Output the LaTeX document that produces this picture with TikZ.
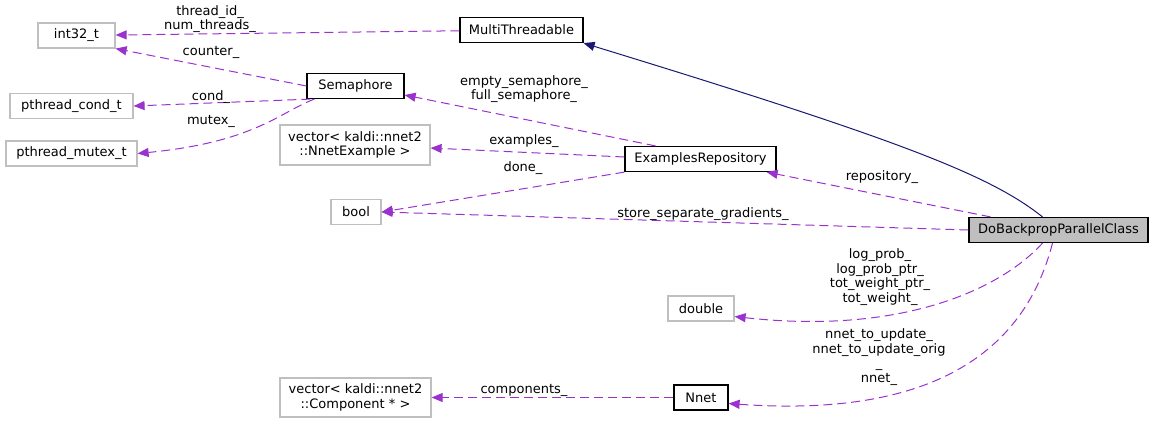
\documentclass[tikz,border=0pt]{standalone}
\usepackage{fontspec}
\setmainfont{DejaVu Sans}
\usetikzlibrary{arrows.meta}

\definecolor{memcol}{HTML}{9A32CD}
\definecolor{inhcol}{HTML}{191970}
\definecolor{extcol}{HTML}{BFBFBF}

\begin{document}
\begin{tikzpicture}[
    x=1pt, y=-1pt,
    font=\fontsize{13}{14.5}\selectfont,
    cls/.style={draw=black, line width=1.2pt, fill=white, minimum height=25pt, inner sep=2pt, align=center},
    ext/.style={cls, draw=extcol},
    main/.style={cls, fill=extcol},
    mem/.style={-{Triangle[length=11pt, width=9pt]}, memcol, line width=1pt, dash pattern=on 9pt off 5pt},
    inh/.style={-{Triangle[length=11pt, width=9pt]}, inhcol, line width=1pt},
    lbl/.style={align=center, inner sep=0pt}
]
    \useasboundingbox (0,0) rectangle (1155,424);

    \node[ext, minimum width=77pt] (int32) at (76.5,35.5) {int32\_t};
    \node[cls, minimum width=123pt] (mthr) at (521.5,30) {MultiThreadable};
    \node[cls, minimum width=97pt] (sem) at (355.5,86) {Semaphore};
    \node[ext, minimum width=123pt] (cond) at (71.5,106) {pthread\_cond\_t};
    \node[ext, minimum width=131pt] (mutex) at (71.5,153.5) {pthread\_mutex\_t};
    \node[ext, minimum width=150pt, minimum height=40pt] (vnex) at (355,145) {vector< kaldi::nnet2\\::NnetExample >};
    \node[cls, minimum width=151pt] (exr) at (700.5,159) {ExamplesRepository};
    \node[ext, minimum width=50pt] (bool) at (356,212) {bool};
    \node[main, minimum width=179pt] (dbp) at (1058.5,230) {DoBackpropParallelClass};
    \node[ext, minimum width=66pt] (dbl) at (701,308.5) {double};
    \node[ext, minimum width=151pt, minimum height=39pt] (vcmp) at (355.5,397.5) {vector< kaldi::nnet2\\::Component * >};
    \node[cls, minimum width=54pt] (nnet) at (701,397.5) {Nnet};

    \draw[inh] ([xshift=-16pt]dbp.north) .. controls (990,175) and (900,140) .. (mthr.south east);
    \draw[mem] (mthr) -- (int32);
    \draw[mem] (sem.west) -- (int32.south east);
    \draw[mem] ([xshift=4pt]sem.south west) -- (cond.east);
    \draw[mem] ([xshift=8pt]sem.south west) .. controls (280,112) and (255,142) .. (mutex.east);
    \draw[mem] ([xshift=-45pt]exr.north) -- ([yshift=-9pt]sem.east);
    \draw[mem] ([yshift=2pt]exr.west) -- ([yshift=-3pt]vnex.east);
    \draw[mem] (exr.south west) -- (bool.east);
    \draw[mem] ([xshift=-68pt]dbp.north) -- ([xshift=-10pt]exr.south east);
    \draw[mem] (dbp.west) -- (bool.east);
    \draw[mem] ([xshift=-16pt]dbp.south) .. controls (1000,290) and (900,335) .. ([yshift=-8pt]dbl.east);
    \draw[mem] ([xshift=-6pt]dbp.south) .. controls (1030,330) and (960,420) .. ([yshift=-6pt]nnet.east);
    \draw[mem] (nnet.west) -- (vcmp.east);

    \node[lbl] (lthr) at (210,19) {thread\_id\_\\num\_threads\_};
    \node[lbl] (lcnt) at (211,52) {counter\_};
    \node[lbl] (lcnd) at (211,97) {cond\_};
    \node[lbl] (lmtx) at (211,121) {mutex\_};
    \node[lbl] (lsem) at (524,89) {empty\_semaphore\_\\full\_semaphore\_};
    \node[lbl] (lexm) at (524,141) {examples\_};
    \node[lbl] (ldone) at (523,168) {done\_};
    \node[lbl] (lrep) at (882,177) {repository\_};
    \node[lbl] (lssg) at (703,214) {store\_separate\_gradients\_};
    \node[lbl] (lprob) at (880,277) {log\_prob\_\\log\_prob\_ptr\_\\tot\_weight\_ptr\_\\tot\_weight\_};
    \node[lbl] (lnet) at (879,357) {nnet\_to\_update\_\\nnet\_to\_update\_orig\\\_\\nnet\_};
    \node[lbl] (lcmp) at (524,390) {components\_};
\end{tikzpicture}
\end{document}
